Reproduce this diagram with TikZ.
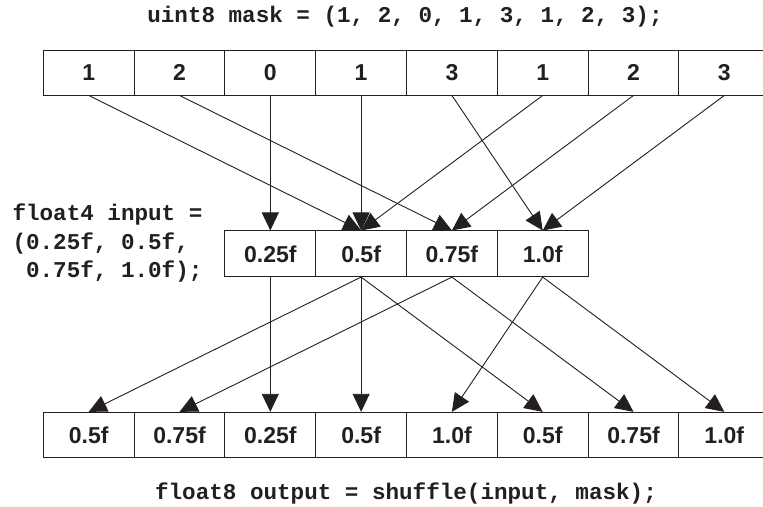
\documentclass[tikz,border=0pt]{standalone}
\usepackage{fontspec}
\setmainfont{Liberation Sans}
\setmonofont{Liberation Mono}
\usetikzlibrary{arrows.meta}
\definecolor{ink}{HTML}{231F20}
\newcommand\cellfont{\fontsize{23}{27}\selectfont\bfseries}
\newcommand\codefont{\fontsize{22.6}{28.5}\selectfont\ttfamily\bfseries}
\begin{document}
\begin{tikzpicture}[x=1pt,y=1pt,
  cell/.style={draw=ink,line width=0.9pt,minimum width=90.8pt,
    minimum height=45pt,inner sep=0pt,font=\cellfont,text=ink},
  link/.style={draw=ink,line width=0.9pt,
    -{Triangle[length=18pt,width=17pt]}},
  code/.style={font=\codefont,text=ink}]
  \useasboundingbox (0,0) rectangle (763,506);
  \node[code] (mask) at (405,489) {uint8 mask = (1, 2, 0, 1, 3, 1, 2, 3);};
  \node[code,align=left,anchor=west] (input) at (9,263)
    {float4 input =\\(0.25f, 0.5f,\\~0.75f, 1.0f);};
  \node[code] (output) at (406,13) {float8 output = shuffle(input, mask);};
  % mask row
  \foreach \v [count=\i from 0] in {1,2,0,1,3,1,2,3}
    \node[cell] (m\i) at ({88.7+90.8*\i},433.5) {\v};
  % input row
  \foreach \v [count=\i from 0] in {0.25f,0.5f,0.75f,1.0f}
    \node[cell,minimum height=45.7pt] (in\i) at ({88.7+90.8*(\i+2)},252.2) {\v};
  % output row
  \foreach \v [count=\i from 0] in
    {0.5f,0.75f,0.25f,0.5f,1.0f,0.5f,0.75f,1.0f}
    \node[cell] (out\i) at ({88.7+90.8*\i},71.2) {\v};
  \foreach \k [count=\i from 0] in {1,2,0,1,3,1,2,3} {
    \draw[link] (m\i.south) -- (in\k.north);
    \draw[link] (in\k.south) -- (out\i.north);
  }
\end{tikzpicture}
\end{document}
